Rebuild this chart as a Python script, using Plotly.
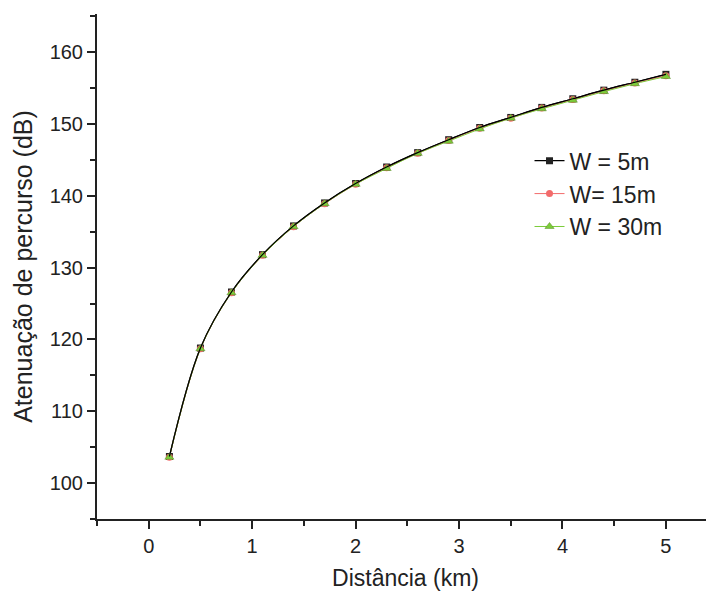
import plotly.graph_objects as go

distance_km = [0.2, 0.5, 0.8, 1.1, 1.4, 1.7, 2.0, 2.3, 2.6, 2.9, 3.2, 3.5, 3.8, 4.1, 4.4, 4.7, 5.0]
w5 = [103.7, 118.8, 126.6, 131.8, 135.8, 139.0, 141.7, 144.0, 146.0, 147.8, 149.5, 150.9, 152.3, 153.5, 154.7, 155.8, 156.9]
w15 = [103.6, 118.7, 126.5, 131.7, 135.7, 138.9, 141.6, 143.9, 145.9, 147.7, 149.4, 150.8, 152.2, 153.4, 154.6, 155.7, 156.7]
w30 = [103.6, 118.7, 126.5, 131.7, 135.7, 138.9, 141.6, 143.8, 145.9, 147.6, 149.3, 150.8, 152.1, 153.3, 154.5, 155.6, 156.6]
names = ["W = 5m", "W= 15m", "W = 30m"]
x_ticks = [0, 1, 2, 3, 4, 5]
y_ticks = [100, 110, 120, 130, 140, 150, 160]

fig = go.Figure()
fig.add_trace(go.Scatter(x=distance_km, y=w5, name=names[0], mode="lines+markers",
                         line=dict(color="black", width=1.2, shape="spline"),
                         marker=dict(symbol="square", size=7, color="#222222")))
fig.add_trace(go.Scatter(x=distance_km, y=w15, name=names[1], mode="lines+markers",
                         line=dict(color="#f26b6b", width=1, shape="spline"),
                         marker=dict(symbol="circle", size=7, color="#f26b6b")))
fig.add_trace(go.Scatter(x=distance_km, y=w30, name=names[2], mode="lines+markers",
                         line=dict(color="#7ccc3a", width=1, shape="spline"),
                         marker=dict(symbol="triangle-up", size=8, color="#7ccc3a",
                                     line=dict(color="#5a8a2a", width=0.5))))
# dark curve drawn on top, as in the scan
fig.add_trace(go.Scatter(x=distance_km, y=w5, mode="lines", showlegend=False,
                         line=dict(color="black", width=1.2, shape="spline"), hoverinfo="skip"))

font_family = "Liberation Sans, Arial, sans-serif"
fig.update_layout(
    width=706, height=585,
    margin=dict(l=89, r=0, t=6, b=74),
    paper_bgcolor="white", plot_bgcolor="white",
    font=dict(family=font_family, color="#222222"),
    showlegend=True,
    legend=dict(x=0.701, y=0.752, xanchor="left", yanchor="top",
                font=dict(size=23, color="#222222"), bgcolor="rgba(0,0,0,0)",
                tracegroupgap=0, itemwidth=30),
    xaxis=dict(range=[-0.5, 5.465], tickvals=x_ticks, ticks="outside", ticklen=8, tickwidth=2,
               tickcolor="#222222", showline=True, linecolor="#222222", linewidth=2,
               showgrid=False, zeroline=False, tickfont=dict(size=20), automargin=False,
               minor=dict(dtick=0.5, tick0=0, ticks="outside", ticklen=5, tickwidth=2, tickcolor="#222222"),
               title=dict(text="Distância (km)", font=dict(size=23), standoff=14)),
    yaxis=dict(range=[95, 165.3], tickvals=y_ticks, ticks="outside", ticklen=8, tickwidth=2,
               tickcolor="#222222", showline=True, linecolor="#222222", linewidth=2,
               showgrid=False, zeroline=False, tickfont=dict(size=20), automargin=False,
               minor=dict(dtick=5, tick0=0, ticks="outside", ticklen=5, tickwidth=2, tickcolor="#222222"),
               title=dict(text="Atenuação de percurso (dB)", font=dict(size=25), standoff=10)),
)

fig.write_html("out.html")
